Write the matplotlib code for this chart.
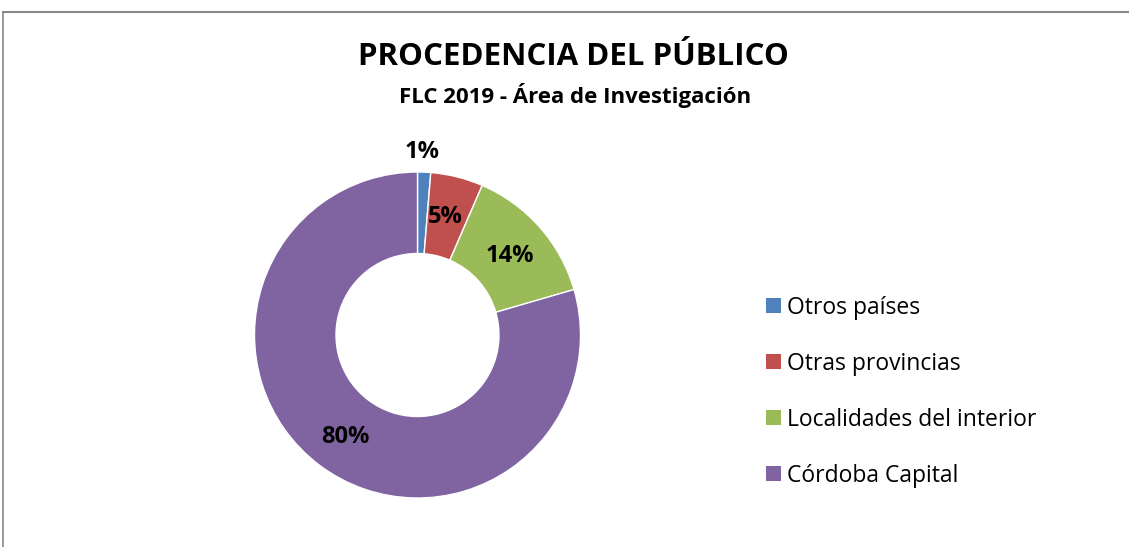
import matplotlib
matplotlib.use("Agg")
import matplotlib.pyplot as plt
from matplotlib.patches import Patch

categories = ["Otros países", "Otras provincias", "Localidades del interior", "Córdoba Capital"]
values = [1.3, 5.2, 14.0, 79.5]
labels = ["1%", "5%", "14%", "80%"]
colors = ["#4F81BD", "#C0504D", "#9BBB59", "#8064A2"]

W, H = 1129, 547
fig = plt.figure(figsize=(W / 100, H / 100), dpi=100)
ax = fig.add_axes([0, 0, 1, 1])

font = ["Open Sans", "DejaVu Sans"]

cx, cy, R = 417.5, H - 335, 163
wedges, _ = ax.pie(values, colors=colors, startangle=90, counterclock=False,
                   center=(cx, cy), radius=R, frame=True,
                   wedgeprops=dict(width=R * 0.5, edgecolor="white", linewidth=1))
ax.set_xlim(0, W)
ax.set_ylim(0, H)
ax.set_aspect("equal")
ax.axis("off")

# data labels
label_pos = [(422, 152), (445, 217), (510, 256), (345, 437)]
for lab, (x, y) in zip(labels, label_pos):
    ax.text(x, H - y, lab, ha="center", va="center", fontsize=17,
            fontweight="bold", family=font, color="black")

# titles
ax.text(573, H - 57, "PROCEDENCIA DEL PÚBLICO", ha="center", va="center",
        fontsize=22.5, fontweight="bold", family=font)
ax.text(575, H - 96, "FLC 2019 - Área de Investigación", ha="center", va="center",
        fontsize=16, fontweight="bold", family=font)

# frame lines
ax.plot([3, 3], [0, H - 12], color="#888888", lw=1.2)
ax.plot([3, W], [H - 12, H - 12], color="#888888", lw=1.5)

handles = [Patch(facecolor=c, edgecolor="none") for c in colors]
leg = ax.legend(handles, categories, loc="upper left",
                bbox_to_anchor=(745 / W, 1 - 275 / H), frameon=False,
                prop=dict(family=font, size=16.5), handlelength=0.65,
                handleheight=0.65, handletextpad=0.3, labelspacing=1.4)

fig.savefig("out.png", dpi=100, facecolor="white")
